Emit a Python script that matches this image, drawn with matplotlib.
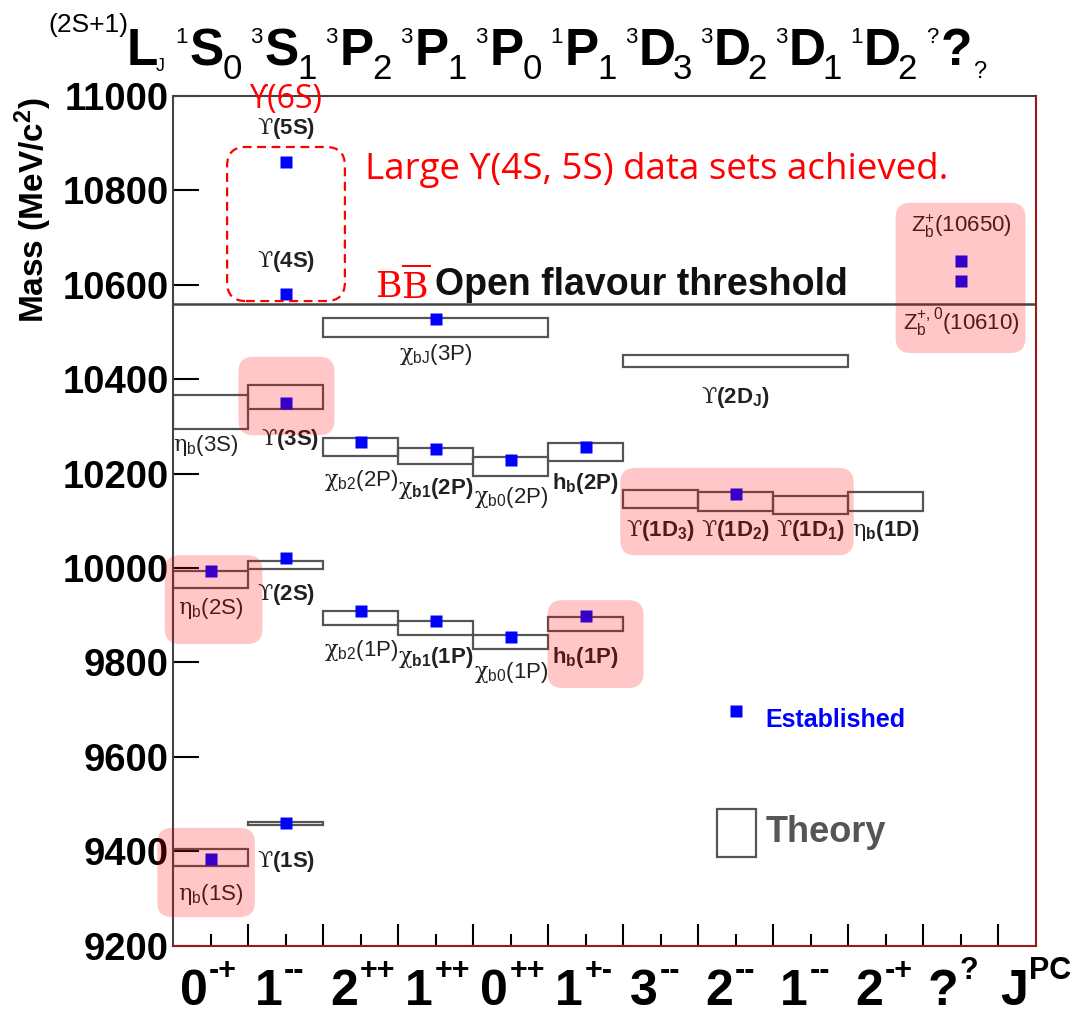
import matplotlib
matplotlib.use('Agg')
import matplotlib.pyplot as plt
from matplotlib.patches import Rectangle, FancyBboxPatch
from matplotlib.lines import Line2D
from matplotlib.transforms import blended_transform_factory

plt.rcParams['font.family'] = ['Liberation Sans', 'DejaVu Sans']
plt.rcParams['mathtext.fontset'] = 'custom'
plt.rcParams['mathtext.rm'] = 'DejaVu Serif'
plt.rcParams['mathtext.it'] = 'DejaVu Serif:italic'
plt.rcParams['mathtext.bf'] = 'Liberation Sans:bold'
plt.rcParams['mathtext.sf'] = 'Liberation Sans'

NARROW = ['Liberation Sans Narrow', 'Liberation Sans', 'DejaVu Sans']

# quantum numbers along the x axis (one column each): J, PC
jpc_base = ['0', '1', '2', '1', '0', '1', '3', '2', '1', '2', '?']
jpc_sup = ['-+', '--', '++', '++', '++', '+-', '--', '--', '--', '-+', '?']
# spectroscopic notation on top: 2S+1, L, J
term_sup = ['1', '3', '3', '3', '3', '1', '3', '3', '3', '1', '?']
term_base = ['S', 'S', 'P', 'P', 'P', 'P', 'D', 'D', 'D', 'D', '?']
term_sub = ['0', '1', '2', '1', '0', '1', '3', '2', '1', '2', '?']

# theory predictions: column range and mass band (MeV)
theory_x0 = [0, 1, 0, 1, 0, 1, 2, 3, 4, 5, 2, 3, 4, 5, 2, 6, 6, 7, 8, 9]
theory_x1 = [1, 2, 1, 2, 1, 2, 3, 4, 5, 6, 3, 4, 5, 6, 5, 9, 7, 8, 9, 10]
theory_lo = [9369, 9457, 9958, 9997, 10294, 10337, 9879, 9858, 9829, 9867,
             10237, 10220, 10195, 10226, 10489, 10425, 10127, 10121, 10114, 10121]
theory_hi = [9405, 9462, 9994, 10015, 10366, 10387, 9909, 9888, 9858, 9896,
             10275, 10254, 10235, 10265, 10529, 10451, 10165, 10161, 10152, 10161]

# established states: column centre and measured mass (MeV)
state_x = [0.5, 1.5, 0.5, 1.5, 1.5, 1.5, 1.5, 2.5, 3.5, 4.5, 5.5,
           2.5, 3.5, 4.5, 5.5, 3.5, 7.5, 10.5, 10.5]
state_m = [9385, 9460, 9993, 10021, 10350, 10579, 10860, 9908, 9888, 9853, 9898,
           10266, 10251, 10228, 10257, 10528, 10157, 10650, 10608]

threshold = 10558

label_text = [r'$\mathrm{\eta}_{\mathsf{b}}$(1S)', r'$\mathrm{ϒ}$(1S)',
              r'$\mathrm{\eta}_{\mathsf{b}}$(2S)', r'$\mathrm{ϒ}$(2S)',
              r'$\mathrm{\eta}_{\mathsf{b}}$(3S)', r'$\mathrm{ϒ}$(3S)',
              r'$\mathrm{\chi}_{\mathsf{b2}}$(2P)', r'$\mathrm{\chi}_{\mathbf{b1}}$(2P)',
              r'$\mathrm{\chi}_{\mathsf{b0}}$(2P)', r'h$_{\mathbf{b}}$(2P)',
              r'$\mathrm{\chi}_{\mathsf{b2}}$(1P)', r'$\mathrm{\chi}_{\mathbf{b1}}$(1P)',
              r'$\mathrm{\chi}_{\mathsf{b0}}$(1P)', r'h$_{\mathbf{b}}$(1P)',
              r'$\mathrm{\chi}_{\mathsf{bJ}}$(3P)', r'$\mathrm{ϒ}$(2D$_{\mathbf{J}}$)',
              r'$\mathrm{ϒ}$(1D$_{\mathbf{3}}$)', r'$\mathrm{ϒ}$(1D$_{\mathbf{2}}$)',
              r'$\mathrm{ϒ}$(1D$_{\mathbf{1}}$)', r'$\mathrm{\eta}_{\mathbf{b}}$(1D)',
              r'Z$_{\mathsf{b}}^{\mathsf{+}}$(10650)', r'Z$_{\mathsf{b}}^{\mathsf{+,0}}$(10610)',
              r'$\mathrm{ϒ}$(5S)', r'$\mathrm{ϒ}$(4S)']
label_x = [0.5, 1.5, 0.5, 1.5, 0.43, 1.56, 2.5, 3.5, 4.5, 5.5, 2.5, 3.5, 4.5, 5.5,
           3.5, 7.5, 6.5, 7.5, 8.5, 9.5, 10.5, 10.5, 1.5, 1.5]
label_m = [9308, 9378, 9915, 9943, 10260, 10271, 10186, 10169, 10150, 10178,
           9826, 9810, 9778, 9810, 10451, 10360, 10080, 10080, 10080, 10080,
           10724, 10521, 10931, 10648]
label_bold = [False, True, False, True, False, True, False, True, False, True,
              False, True, False, True, False, True, True, True, True, True,
              False, False, True, True]

# highlighted groups: x0, x1, m0, m1
hl_x0 = [0.87, -0.11, 4.99, -0.21, 5.96, 9.63]
hl_x1 = [2.15, 1.19, 6.27, 1.09, 9.07, 11.36]
hl_m0 = [10281, 9839, 9746, 9261, 10027, 10455]
hl_m1 = [10447, 10027, 9932, 9450, 10212, 10773]

fig = plt.figure(figsize=(10.75, 10.16), dpi=100)
ax = fig.add_axes([0.161, 0.0689, 0.8027, 0.8371])
ax.set_xlim(0, 11.5)
ax.set_ylim(9200, 11000)

for s in ['left', 'top']:
    ax.spines[s].set_color('#444444')
    ax.spines[s].set_linewidth(1.5)
for s in ['right', 'bottom']:
    ax.spines[s].set_color('#9a1a1a')
    ax.spines[s].set_linewidth(1.5)

ax.set_yticks(range(9200, 11001, 200))
ax.tick_params(axis='y', direction='in', length=19, width=1.5, labelsize=27.5, pad=3)
for t in ax.get_yticklabels():
    t.set_fontweight('bold')
ax.set_xticks(range(1, 12))
ax.set_xticks([0.5, 1.5, 2.5, 3.5, 4.5, 5.5, 6.5, 7.5, 8.5, 9.5, 10.5], minor=True)
ax.tick_params(axis='x', which='major', direction='in', length=16, width=1.5, labelbottom=False)
ax.tick_params(axis='x', which='minor', direction='in', length=8.5, width=1.5, labelbottom=False)

# theory bands
for x0, x1, lo, hi in zip(theory_x0, theory_x1, theory_lo, theory_hi):
    ax.add_patch(Rectangle((x0, lo), x1 - x0, hi - lo, fill=False, ec='#555555', lw=1.6, zorder=2))

ax.axhline(threshold, color='#444444', lw=1.8, zorder=2)
ax.plot(state_x, state_m, ls='none', marker='s', color='#0000ff', ms=8.5, mec='none', zorder=3)

for txt, x, m, b in zip(label_text, label_x, label_m, label_bold):
    ax.text(x, m, txt, ha='center', va='center', fontsize=16,
            fontweight='bold' if b else 'normal', color='#222222', zorder=5, clip_on=False)

# pink boxes over the newly observed states
aspect = 158.7
for x0, x1, m0, m1 in zip(hl_x0, hl_x1, hl_m0, hl_m1):
    ax.add_patch(FancyBboxPatch((x0, m0), x1 - x0, m1 - m0,
                                boxstyle='round,pad=0,rounding_size=0.2', mutation_aspect=aspect,
                                fc=(1, 0, 0, 0.22), ec='none', clip_on=False, zorder=6))

ax.add_patch(FancyBboxPatch((0.72, 10565), 1.57, 326,
                            boxstyle='round,pad=0,rounding_size=0.25', mutation_aspect=aspect,
                            fc='none', ec='red', lw=1.6, ls=(0, (4, 2.5)), clip_on=False, zorder=6))

red_font = ['Open Sans', 'DejaVu Sans']
ax.text(1.51, 10992, 'ϒ(6S)', color='red', fontsize=23, ha='center', va='center',
        family=red_font, zorder=7, clip_on=False)
ax.text(2.56, 10823, 'Large ϒ(4S, 5S) data sets achieved.', color='red', fontsize=26.5,
        ha='left', va='baseline', family=red_font, zorder=7)
ax.text(2.69, 10571, r'$\mathrm{B\overline{B}}$', color='red', fontsize=26, ha='left', va='baseline', zorder=7)
ax.text(3.49, 10578, 'Open flavour threshold', fontsize=27, fontweight='bold', ha='left',
        va='baseline', color='#111111', zorder=5)

# legend
h_est = Line2D([], [], ls='none', marker='s', color='#0000ff', mec='none', ms=8.5)
h_th = Rectangle((0, 0), 1, 1, fill=False, ec='#555555', lw=1.6)
leg = ax.legend([h_est, h_th], ['Established', 'Theory'], loc='upper left',
                bbox_to_anchor=(0.630, 0.2957), frameon=False, fontsize=20, handlelength=1.4,
                handleheight=2.28, labelspacing=2.4, handletextpad=0.35, borderaxespad=0, borderpad=0)
lt = leg.get_texts()
lt[0].set_color('#0000ff')
lt[0].set_fontweight('bold')
lt[0].set_fontsize(18)
lt[1].set_color('#555555')
lt[1].set_fontweight('bold')
lt[1].set_fontsize(26)

# quantum number rows above and below the frame
trans = blended_transform_factory(ax.transData, fig.transFigure)
cols = [0.5, 1.5, 2.5, 3.5, 4.5, 5.5, 6.5, 7.5, 8.5, 9.5, 10.5]
y_bot = 1 - 1005 / 1016
y_top = 1 - 65 / 1016


def put(x, y, s, dx, dy, size, ha, weight='bold', family=NARROW):
    ax.annotate(s, xy=(x, y), xycoords=trans, xytext=(dx, dy), textcoords='offset points',
                fontsize=size, fontweight=weight, family=family, ha=ha, va='baseline',
                annotation_clip=False)


for x, b, p in zip(cols, jpc_base, jpc_sup):
    put(x, y_bot, b, -2, 0, 36, 'right')
    put(x, y_bot, p, -1, 19, 22, 'left')
put(11.03, y_bot, 'J', 0, 0, 36, 'left')
put(11.03, y_bot, 'PC', 20.5, 19, 22, 'left')

for x, p, b, s in zip(cols, term_sup, term_base, term_sub):
    put(x, y_top, b, -3, 0, 37, 'center')
    put(x, y_top, p, -16.5, 16, 16, 'right', weight='normal')
    if s == '?':
        put(x, y_top, s, 8.5, -9, 17, 'left', weight='normal')
    else:
        put(x, y_top, s, 8.5, -10, 25, 'left', weight='normal')
put(-0.41, y_top, 'L', 0, 0, 37, 'center')
put(-0.41, y_top, '(2S+1)', -10, 24, 19, 'right', weight='normal', family=['Liberation Sans'])
put(-0.41, y_top, 'J', 10, -4, 13, 'left', weight='normal')

fig.text(0.031, 0.793, r'Mass (MeV/c$^{\mathbf{2}}$)', rotation=90, fontsize=24, fontweight='bold',
         ha='center', va='center')

fig.savefig('out.png', dpi=100)
